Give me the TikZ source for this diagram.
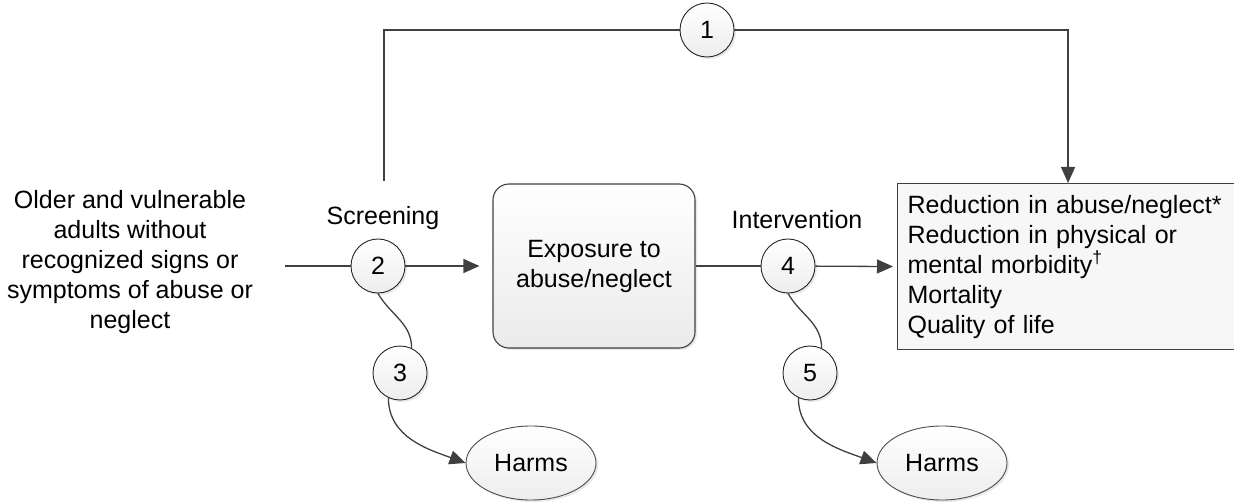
\documentclass[tikz,border=0pt]{standalone}
\usepackage{fontspec}
\setmainfont{Liberation Sans}
\usetikzlibrary{arrows.meta, positioning, shapes.geometric, shadows}
\tikzset{
every node/.style={font=\fontsize{25}{30}\selectfont},
line/.style={draw=black!75, line width=1.3pt},
arr/.style={line, -{Triangle[length=16pt,width=14pt]}},
shade/.style={drop shadow={opacity=0.18, shadow xshift=2pt, shadow yshift=-2pt}},
num/.style={circle, draw=black!85, line width=0.9pt, top color=white, bottom color=gray!14,
  minimum size=54pt, inner sep=0pt, shade},
harm/.style={ellipse, draw=black!70, line width=0.9pt, top color=white, bottom color=gray!14,
  minimum width=130pt, minimum height=74pt, inner sep=0pt, shade},
}

\begin{document}
\begin{tikzpicture}[x=1pt, y=-1pt]
\useasboundingbox (0,0) rectangle (1234,502);
% population and key questions
    \node[align=center] (pop) at (130,262) {Older and vulnerable\\adults without\\recognized signs or\\symptoms of abuse or\\neglect};
    \coordinate (start) at (285,266);
    \node[num] (c2) at (378,266) {2};
    \node (scr) at (383,218) {Screening};
    \coordinate (scrtop) at (384,181);
    \node[num] (c1) at (707,30) {1};
    \node[draw=black!75, line width=1.1pt, rounded corners=16pt, top color=white, bottom color=gray!16,
      minimum width=202pt, minimum height=164pt, align=center, shade] (expo) at (594,266) {Exposure to\\abuse/neglect};
    \node[num] (c4) at (788,266) {4};
    \node (int) at (797,220) {Intervention};
    \node[draw=black!75, line width=1.1pt, fill=gray!6, anchor=north west, minimum width=341pt,
      minimum height=166pt, text width=321pt, inner xsep=10pt, align=left] (outc) at (897,183)
      {Reduction in abuse/neglect*\\Reduction in physical or\\mental morbidity\textsuperscript{\textdagger}\\Mortality\\Quality of life};
% harms
    \node[num] (c3) at (400,373) {3};
    \node[harm] (harm1) at (531,463) {Harms};
    \node[num] (c5) at (810,373) {5};
    \node[harm] (harm2) at (942,463) {Harms};
% connectors
    \draw[line] (start) -- (c2);
    \draw[arr, shorten >=13pt] (c2) -- (expo);
    \draw[line] (expo) -- (c4);
    \draw[arr, shorten >=4pt] (c4) -- (outc.west);
    \draw[line] (scrtop) |- (c1);
    \draw[arr] (c1) -| (outc);
    \draw[line] (c2.south) to[out=-60, in=90] (c3.65);
    \draw[arr] (c3.-115) to[out=-90, in=160] (harm1.west);
    \draw[line] (c4.south) to[out=-60, in=90] (c5.65);
    \draw[arr] (c5.-115) to[out=-90, in=160] (harm2.west);
\end{tikzpicture}
\end{document}
